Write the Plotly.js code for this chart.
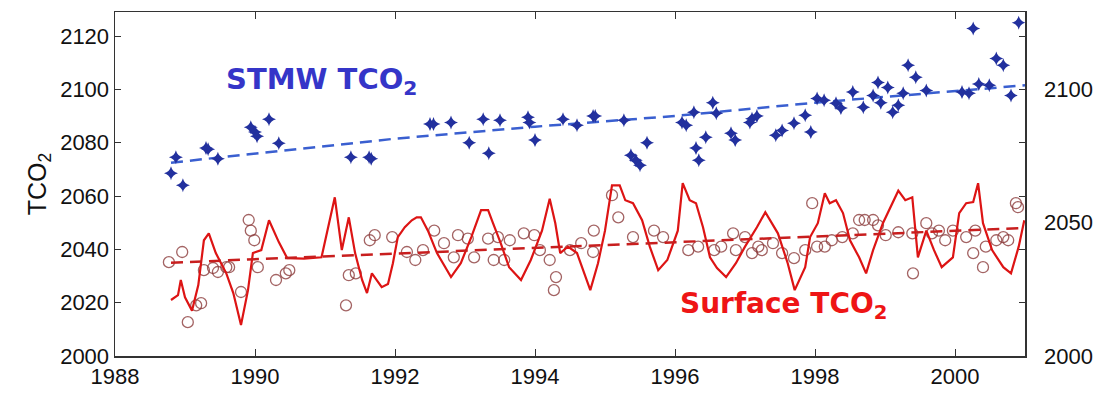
<!DOCTYPE html>
<html>
<head>
<meta charset="utf-8">
<script src="https://cdn.plot.ly/plotly-3.0.1.min.js"></script>
<style>html,body{margin:0;padding:0;background:#fff;}#chart{width:1107px;height:393px;}</style>
</head>
<body>
<div id="chart"></div>
<script>
// STMW TCO2 (blue stars)
var stmwYear = [1988.8,1988.87,1988.97,1989.3,1989.33,1989.47,1989.94,1990.0,1990.03,1990.2,1990.34,1991.37,1991.63,1991.66,1992.5,1992.55,1992.8,1993.06,1993.26,1993.34,1993.5,1993.9,1993.92,1994.0,1994.4,1994.6,1994.83,1994.86,1995.27,1995.37,1995.44,1995.5,1995.6,1996.1,1996.16,1996.27,1996.44,1996.3,1996.34,1996.54,1996.59,1996.8,1996.86,1997.07,1997.1,1997.17,1997.44,1997.53,1997.7,1997.86,1997.94,1998.03,1998.13,1998.3,1998.37,1998.54,1998.69,1998.83,1998.9,1998.94,1999.04,1999.11,1999.19,1999.26,1999.33,1999.44,1999.59,2000.1,2000.2,2000.26,2000.34,2000.49,2000.59,2000.69,2000.8,2000.91];
var stmwTco2 = [2068.5,2074.5,2064,2078,2077.5,2074,2085.8,2084,2082.4,2088.8,2079.8,2074.5,2074.5,2074,2087,2087,2087.6,2080,2088.8,2076,2088.4,2089.5,2087.6,2081,2088.8,2086.5,2090,2090,2088.4,2075.3,2073.4,2071.5,2080,2087.6,2086.5,2091.4,2082,2078,2073.4,2095,2091,2083.5,2081,2087.6,2089,2090,2082.8,2084.6,2087.3,2090.3,2084,2096.6,2095.9,2094.8,2093,2099,2093.3,2097.7,2102.6,2095,2100.7,2091.4,2094,2098.5,2109,2104.5,2099.6,2099,2098.5,2122.8,2102,2101.5,2111.6,2109,2097.7,2125];
var stmwTrendYear = [1988.8, 1990, 1992, 1994, 1996, 1998, 2001];
var stmwTrendTco2 = [2072.5, 2075.8, 2081.5, 2086, 2090, 2095, 2101.5];

// Surface TCO2 seasonal curve (red line)
var surfLineYear = [1988.8,1988.9,1988.94,1989.0,1989.1,1989.19,1989.27,1989.34,1989.44,1989.59,1989.69,1989.8,1989.9,1989.97,1990.09,1990.2,1990.34,1990.46,1990.7,1990.95,1991.14,1991.24,1991.34,1991.43,1991.53,1991.6,1991.67,1991.81,1991.9,1991.97,1992.04,1992.14,1992.24,1992.31,1992.37,1992.47,1992.6,1992.8,1992.94,1993.09,1993.23,1993.33,1993.4,1993.51,1993.63,1993.8,1993.94,1994.1,1994.21,1994.29,1994.36,1994.47,1994.6,1994.79,1994.9,1995.0,1995.1,1995.21,1995.29,1995.4,1995.53,1995.64,1995.76,1995.89,1996.04,1996.11,1996.21,1996.3,1996.4,1996.5,1996.6,1996.73,1996.87,1997.0,1997.17,1997.29,1997.47,1997.61,1997.71,1997.86,1997.93,1998.04,1998.14,1998.21,1998.3,1998.4,1998.5,1998.63,1998.73,1998.83,1998.97,1999.11,1999.19,1999.29,1999.39,1999.47,1999.59,1999.7,1999.81,1999.97,2000.06,2000.16,2000.26,2000.33,2000.4,2000.53,2000.69,2000.8,2000.91,2000.99];
var surfLineTco2 = [2021,2022.8,2028.5,2022,2017,2026.6,2043.4,2046,2038.6,2031,2023.6,2011.6,2024.7,2038.6,2039.7,2050.9,2042.7,2036.7,2036.5,2037,2059.5,2039.7,2052,2038.6,2028.5,2023.6,2031,2025.8,2027,2034.8,2044.6,2048.3,2050.9,2052,2052,2047,2038.6,2029.6,2034.8,2044.6,2054.7,2054.7,2049.8,2042.3,2033.3,2028.5,2036,2047,2059,2049.8,2038.6,2041,2038.6,2024.7,2034.8,2047,2064,2064,2058.4,2057.3,2050.9,2041,2032.2,2036,2047,2064.8,2058.4,2057.3,2048.3,2037,2033,2029.6,2034.8,2041,2048.3,2053.9,2046,2034.8,2024.7,2033.3,2044.6,2049.8,2061,2057.3,2058.4,2053.6,2043.4,2037,2031,2039.7,2049.8,2057.3,2062,2058.4,2059.5,2037,2047,2039.7,2033.3,2037,2053.6,2057.3,2057.7,2064.8,2049.8,2039.7,2033.3,2031,2041,2050.9];

// Surface TCO2 observations (red circles)
var surfObsYear = [1988.77,1988.96,1989.04,1989.16,1989.23,1989.27,1989.4,1989.47,1989.59,1989.63,1989.8,1989.91,1989.94,1989.99,1990.04,1990.3,1990.44,1990.49,1991.3,1991.34,1991.44,1991.64,1991.71,1991.96,1992.17,1992.29,1992.4,1992.56,1992.7,1992.84,1992.9,1993.04,1993.13,1993.33,1993.41,1993.47,1993.56,1993.64,1993.84,1993.99,1994.07,1994.21,1994.27,1994.3,1994.5,1994.66,1994.83,1994.84,1995.1,1995.19,1995.4,1995.7,1995.83,1996.19,1996.33,1996.56,1996.66,1996.83,1996.87,1997.0,1997.1,1997.19,1997.24,1997.4,1997.53,1997.7,1997.86,1997.96,1998.03,1998.14,1998.24,1998.39,1998.54,1998.63,1998.71,1998.83,1998.9,1999.01,1999.19,1999.39,1999.4,1999.59,1999.67,1999.77,1999.86,1999.97,2000.16,2000.26,2000.29,2000.4,2000.44,2000.59,2000.69,2000.76,2000.87,2000.9];
var surfObsTco2 = [2035.2,2039,2012.7,2019,2019.8,2032.2,2033,2031.5,2033.3,2033.3,2024,2051,2047,2043.4,2033.3,2028.5,2031,2032.2,2019,2030.3,2031,2043.4,2045.3,2044.6,2039,2036,2039.7,2047,2042.3,2037,2045.3,2044,2037,2044,2036,2044.6,2036,2043.4,2046,2045.3,2039.7,2036,2024.7,2029.6,2039.7,2042.3,2039,2047,2060.3,2052,2044.6,2047,2044.6,2039.7,2041,2039.7,2041,2046,2039.7,2044.6,2038.6,2041,2039.7,2042.3,2038.6,2036.7,2039.7,2057.3,2041,2041,2043.4,2044.6,2046,2051,2051,2051,2049,2045.3,2046.4,2046,2031,2049.8,2046,2047,2043.4,2047,2044.6,2038.6,2047,2033.3,2041,2043.4,2044.6,2043.4,2057.3,2055.8];
var surfTrendYear = [1988.8, 2001];
var surfTrendTco2 = [2035, 2048];

var xTicks = [1988, 1990, 1992, 1994, 1996, 1998, 2000];
var yTicksLeft = [2000, 2020, 2040, 2060, 2080, 2100, 2120];
var yTicksRight = [2000, 2050, 2100];

var tickFont = {family: 'Liberation Sans, Arial, sans-serif', size: 22, color: '#111'};

var traces = [
  {x: surfObsYear, y: surfObsTco2, type: 'scatter', mode: 'markers',
   marker: {symbol: 'circle-open', size: 11, color: 'rgba(140,60,60,0.8)', line: {width: 1.3}}},
  {x: surfLineYear, y: surfLineTco2, type: 'scatter', mode: 'lines',
   line: {color: '#dd1414', width: 2.2}},
  {x: surfTrendYear, y: surfTrendTco2, type: 'scatter', mode: 'lines',
   line: {color: '#c81e1e', width: 2.5, dash: '12px,7px'}},
  {x: stmwTrendYear, y: stmwTrendTco2, type: 'scatter', mode: 'lines',
   line: {color: '#3a5fd0', width: 2.5, dash: '12px,7px'}},
  {x: stmwYear, y: stmwTco2, type: 'scatter', mode: 'markers',
   marker: {symbol: 'star-diamond', size: 10, color: '#22309e', line: {width: 0}}},
  {x: [2000], y: [2000], yaxis: 'y2', type: 'scatter', mode: 'markers',
   marker: {opacity: 0}, hoverinfo: 'skip'}
];

var layout = {
  width: 1107, height: 393,
  margin: {l: 115, r: 82, t: 12, b: 37},
  paper_bgcolor: '#fff', plot_bgcolor: '#fff',
  showlegend: false,
  xaxis: {range: [1988, 2001], tickvals: xTicks, ticktext: xTicks.map(String),
    ticks: 'inside', ticklen: 7, tickcolor: '#333', showline: true, linecolor: '#333', linewidth: 1.5,
    mirror: 'ticks', showgrid: false, zeroline: false, tickfont: tickFont},
  yaxis: {range: [2000, 2129], tickvals: yTicksLeft, ticktext: yTicksLeft.map(String),
    ticks: 'inside', ticklen: 6, tickcolor: '#333', showline: true, linecolor: '#333', linewidth: 1.5,
    mirror: 'ticks', showgrid: false, zeroline: false, tickfont: tickFont,
    title: {text: 'TCO<sub>2</sub>', font: {family: 'Liberation Sans, Arial, sans-serif', size: 25, color: '#111'}, standoff: 6}},
  yaxis2: {range: [2000, 2129], overlaying: 'y', side: 'right', tickvals: yTicksRight,
    ticktext: yTicksRight.map(String), ticks: '', showline: false, showgrid: false, zeroline: false,
    tickfont: tickFont, ticklabelstandoff: 18},
  annotations: [
    {x: 1990.95, y: 2103, xref: 'x', yref: 'y', text: 'STMW TCO<sub>2</sub>', showarrow: false,
     font: {family: 'DejaVu Sans, sans-serif', size: 29, color: '#3535c8', weight: 'bold'}},
    {x: 1997.55, y: 2019, xref: 'x', yref: 'y', text: 'Surface TCO<sub>2</sub>', showarrow: false,
     font: {family: 'DejaVu Sans, sans-serif', size: 28, color: '#ee1515', weight: 'bold'}}
  ]
};

Plotly.newPlot('chart', traces, layout, {displayModeBar: false, staticPlot: true});
</script>
</body>
</html>
